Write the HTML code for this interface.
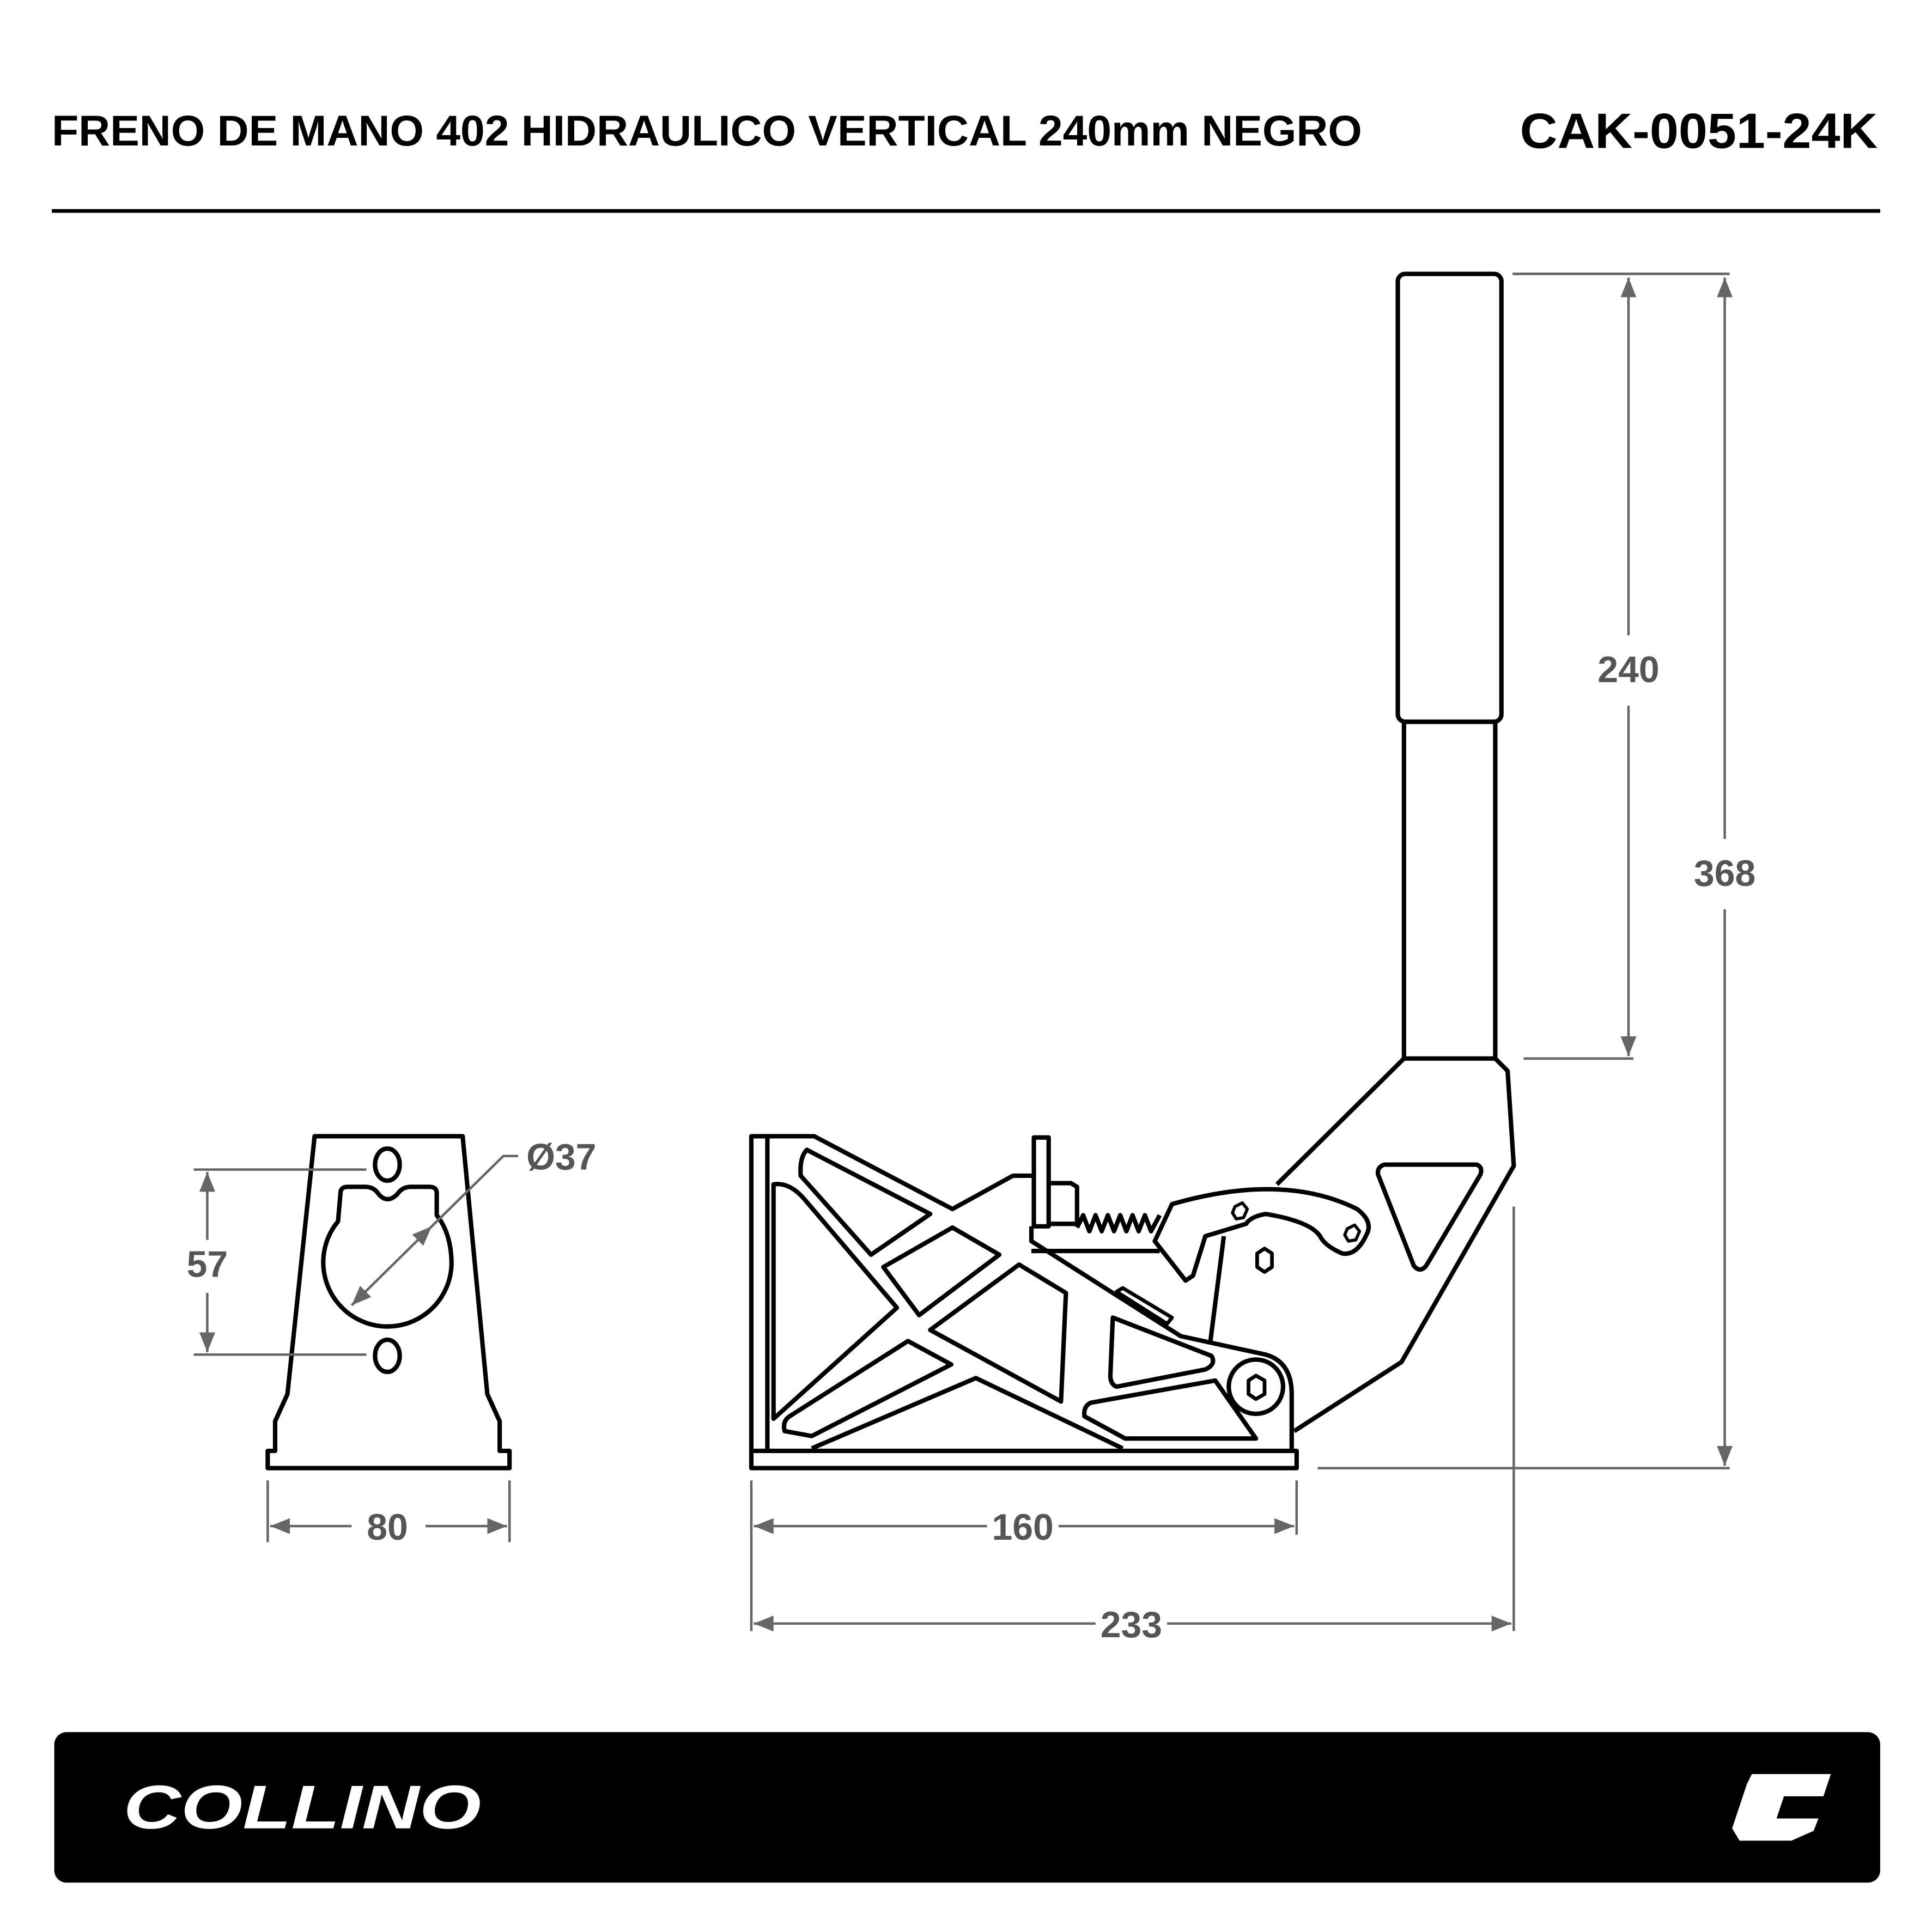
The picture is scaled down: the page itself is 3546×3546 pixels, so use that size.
<!DOCTYPE html>
<html><head><meta charset="utf-8"><style>
html,body{margin:0;padding:0;background:#fff}
svg{display:block}
</style></head><body>
<svg width="3546" height="3546" viewBox="0 0 1566 1566" xmlns="http://www.w3.org/2000/svg">
<defs>
<marker id="a" viewBox="0 0 10 10" refX="10" refY="5" markerWidth="8" markerHeight="8" orient="auto-start-reverse"><path d="M0,1 L10,5 L0,9 z" fill="#666"/></marker>
</defs>
<rect width="1566" height="1566" fill="#fff"/>
<text x="42" y="118" font-family="Liberation Sans, sans-serif" font-weight="bold" font-size="35" fill="#000" textLength="1062" lengthAdjust="spacingAndGlyphs">FRENO DE MANO 402 HIDRAULICO VERTICAL 240mm NEGRO</text>
<text x="1522" y="120" text-anchor="end" font-family="Liberation Sans, sans-serif" font-weight="bold" font-size="40" fill="#000" textLength="290" lengthAdjust="spacingAndGlyphs">CAK-0051-24K</text>
<line x1="42" y1="171" x2="1524" y2="171" stroke="#000" stroke-width="3"/>

<g fill="none" stroke="#000" stroke-width="3.6" stroke-linejoin="round">
<rect x="1133" y="222" width="84" height="363" rx="6"/>
<rect x="1138" y="585" width="74" height="273"/>
<path d="M1138,858 L1035,960 M1212,858 L1222,868 L1227,945 L1136,1104 L1049,1160"/>
<path d="M1122,944 L1197,944 Q1202,946 1200,952 L1156,1026 Q1151,1032 1146,1026 L1117,952 Q1116,946 1122,944 Z"/>
<rect x="609" y="1176" width="442" height="14"/>
<path d="M609,1176 V921 H660 L772,980 L821,953 H838"/>
<line x1="622" y1="921" x2="622" y2="1176"/>
<rect x="838" y="922" width="12" height="72"/>
<path d="M850,959 H868 L873,962 V992 H850"/>
<path d="M873,995 L878,985 L883,998 L888,985 L893,998 L898,985 L903,998 L908,985 L913,998 L918,985 L923,998 L928,985 L933,998 L940,985"/>
<path d="M836,994 V1006 L957,1083 L1026,1098 Q1047,1104 1047,1130 V1176"/>
<line x1="836" y1="1014" x2="940" y2="1014"/>
<path d="M950,976 Q1040,950 1100,980 Q1113,990 1108,1000 Q1100,1018 1088,1016 Q1074,1010 1070,1002 Q1062,990 1026,984 Q1014,986 1010,992 L977,1002 L967,1034 L961,1038 L936,1006 Z"/>
<path d="M992,1002 L981,1088"/>
<path d="M1001,978 L1007,975 L1011,980 L1008,987 L1002,988 L999,983 Z" stroke-width="2.5"/>
<path d="M1092,996 L1098,993 L1102,998 L1099,1005 L1093,1006 L1090,1001 Z" stroke-width="2.5"/>
<path d="M1019,1016 L1025,1012 L1031,1016 L1031,1027 L1025,1031 L1019,1027 Z" stroke-width="3"/>
<path d="M654,932 L754,984 L706,1017 L649,953 Q648,938 654,932 Z"/>
<path d="M627,960 Q640,958 652,972 L727,1060 L627,1150 Z"/>
<path d="M772,995 L810,1017 L745,1066 L716,1027 Z"/>
<path d="M826,1025 L864,1048 L860,1136 L754,1078 Z"/>
<path d="M736,1087 L771,1106 L658,1164 L636,1160 Q634,1152 640,1148 Z"/>
<path d="M658,1174 L791,1117 L910,1174"/>
<path d="M902,1068 L982,1099 Q986,1106 977,1110 L905,1124 Q900,1122 900,1115 Z"/>
<path d="M884,1137 L985,1119 L1018,1166 L912,1166 L879,1148 Q878,1140 884,1137 Z"/>
<path d="M905,1047 L910,1044 L950,1068 L946,1073 Z" stroke-width="3"/>
<circle cx="1018" cy="1124" r="22"/>
<path d="M1012,1119 L1018,1115 L1025,1119 L1025,1130 L1018,1134 L1012,1130 Z" stroke-width="3"/>
<path d="M255,921 H375 L395,1130 L405,1152 V1176 H413 V1190 H217 V1176 H223 V1152 L233,1130 L255,921 Z"/>
<ellipse cx="314" cy="944" rx="10" ry="13"/>
<ellipse cx="314" cy="1099" rx="10" ry="13"/>
<path d="M276,967 Q276,962 282,962 H296 Q303,962 307,968 Q314,976 322,968 Q326,962 333,962 H348 Q354,962 354,967 V985 Q366,1000 366,1025 A52,52 0 1 1 274,990 Z"/>
</g>

<g stroke="#666" stroke-width="2" fill="none">
<line x1="157" y1="948" x2="297" y2="948"/>
<line x1="157" y1="1098" x2="297" y2="1098"/>
<line x1="168" y1="950" x2="168" y2="1005" marker-start="url(#a)"/>
<line x1="168" y1="1048" x2="168" y2="1096" marker-end="url(#a)"/>
<line x1="217" y1="1200" x2="217" y2="1250"/>
<line x1="413" y1="1200" x2="413" y2="1250"/>
<line x1="219" y1="1237" x2="285" y2="1237" marker-start="url(#a)"/>
<line x1="345" y1="1237" x2="411" y2="1237" marker-end="url(#a)"/>
<line x1="285" y1="1058" x2="350" y2="994" marker-start="url(#a)" marker-end="url(#a)"/>
<polyline points="350,994 408,937 420,937"/>
<line x1="609" y1="1200" x2="609" y2="1322"/>
<line x1="1051" y1="1200" x2="1051" y2="1244"/>
<line x1="1227" y1="978" x2="1227" y2="1322"/>
<line x1="611" y1="1237" x2="800" y2="1237" marker-start="url(#a)"/>
<line x1="858" y1="1237" x2="1049" y2="1237" marker-end="url(#a)"/>
<line x1="611" y1="1316" x2="888" y2="1316" marker-start="url(#a)"/>
<line x1="946" y1="1316" x2="1225" y2="1316" marker-end="url(#a)"/>
<line x1="1226" y1="222" x2="1402" y2="222"/>
<line x1="1235" y1="858" x2="1324" y2="858"/>
<line x1="1068" y1="1190" x2="1402" y2="1190"/>
<line x1="1320" y1="225" x2="1320" y2="515" marker-start="url(#a)"/>
<line x1="1320" y1="572" x2="1320" y2="856" marker-end="url(#a)"/>
<line x1="1398" y1="225" x2="1398" y2="680" marker-start="url(#a)"/>
<line x1="1398" y1="737" x2="1398" y2="1188" marker-end="url(#a)"/>
</g>
<g font-family="Liberation Sans, sans-serif" font-weight="bold" font-size="30" fill="#555" text-anchor="middle">
<text x="168" y="1035">57</text>
<text x="314" y="1248">80</text>
<text x="455" y="948">Ø37</text>
<text x="829" y="1248">160</text>
<text x="917" y="1327">233</text>
<text x="1320" y="553">240</text>
<text x="1398" y="718">368</text>
</g>

<rect x="44" y="1404" width="1480" height="122" rx="10" fill="#000"/>
<text x="100" y="1482" font-family="Liberation Sans, sans-serif" font-weight="bold" font-style="italic" font-size="50" fill="#fff" textLength="290" lengthAdjust="spacingAndGlyphs">COLLINO</text>
<path d="M1420,1438 H1484 L1478,1456 H1446 L1440,1474 H1474 L1470,1484 L1452,1492 H1410 L1404,1482 L1416,1446 Z" fill="#fff"/>
</svg>
</body></html>
